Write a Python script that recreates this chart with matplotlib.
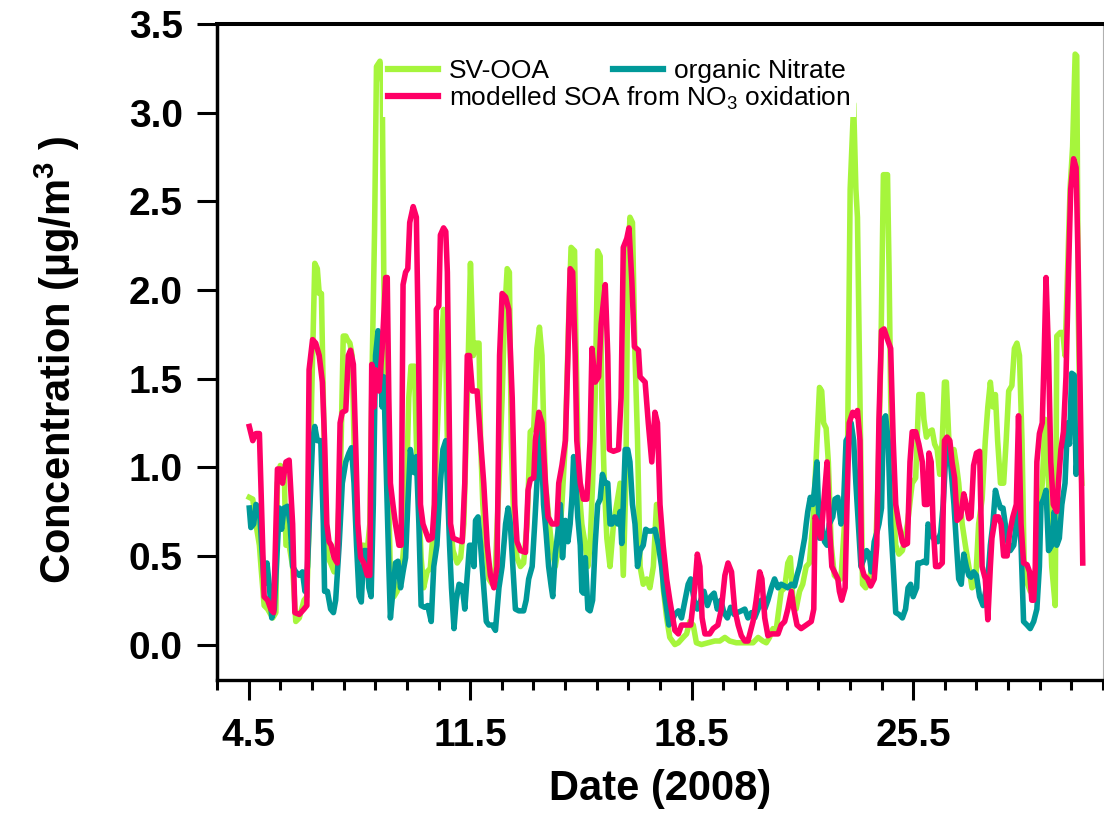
import matplotlib
matplotlib.use('Agg')
import matplotlib.pyplot as plt
from matplotlib.ticker import FixedLocator, MultipleLocator, FormatStrFormatter
import numpy as np

plt.rcParams['font.family'] = ['Liberation Sans', 'DejaVu Sans']
plt.rcParams['mathtext.fontset'] = 'custom'
plt.rcParams['mathtext.rm'] = 'Liberation Sans'
plt.rcParams['mathtext.bf'] = 'Liberation Sans:bold'

# --- data: day of May 2008 vs concentration (ug/m3) ---
soa_t = [4.52, 4.63, 4.73, 4.84, 4.99, 5.10, 5.20, 5.29, 5.41, 5.50, 5.57, 5.68, 5.78, 5.89, 5.96,
         6.10, 6.25, 6.34, 6.41, 6.52, 6.62, 6.73, 6.83, 6.90, 6.97, 7.04, 7.11, 7.20, 7.30, 7.39,
         7.46, 7.57, 7.65, 7.72, 7.81, 7.88, 7.95, 8.04, 8.14, 8.25, 8.33, 8.39, 8.46, 8.51, 8.62,
         8.72, 8.83, 8.88, 8.93, 8.98, 9.06, 9.14, 9.25, 9.32, 9.38, 9.46, 9.53, 9.59, 9.70, 9.80,
         9.87, 9.93, 10.01, 10.09, 10.19, 10.30, 10.37, 10.43, 10.51, 10.56, 10.66, 10.73, 10.78,
         10.83, 10.88, 10.96, 11.09, 11.25, 11.33, 11.41, 11.48, 11.57, 11.72, 11.83, 11.93, 12.04,
         12.14, 12.25, 12.35, 12.43, 12.51, 12.62, 12.72, 12.83, 12.91, 12.98, 13.09, 13.25, 13.33,
         13.40, 13.51, 13.56, 13.67, 13.77, 13.88, 13.96, 14.09, 14.24, 14.30, 14.40, 14.51, 14.59,
         14.66, 14.74, 14.82, 14.87, 14.98, 15.08, 15.19, 15.29, 15.35, 15.45, 15.56, 15.64, 15.77,
         15.85, 15.90, 16.03, 16.19, 16.27, 16.34, 16.45, 16.52, 16.61, 16.69, 16.82, 16.87, 17.03,
         17.13, 17.24, 17.34, 17.42, 17.50, 17.60, 17.71, 17.81, 17.97, 18.08, 18.18, 18.34, 18.47,
         18.60, 18.68, 18.76, 18.83, 18.92, 19.07, 19.18, 19.33, 19.44, 19.55, 19.65, 19.76, 19.86,
         19.97, 20.07, 20.18, 20.28, 20.44, 20.54, 20.65, 20.72, 20.81, 20.91, 21.02, 21.23, 21.33,
         21.44, 21.54, 21.65, 21.73, 21.83, 21.96, 22.12, 22.28, 22.36, 22.40, 22.49, 22.59, 22.67,
         22.78, 22.85, 22.93, 23.01, 23.12, 23.17, 23.24, 23.35, 23.41, 23.48, 23.59, 23.69, 23.74,
         23.82, 23.87, 23.95, 24.06, 24.16, 24.27, 24.35, 24.42, 24.50, 24.58, 24.69, 24.79, 24.87,
         24.95, 25.05, 25.16, 25.21, 25.32, 25.40, 25.47, 25.58, 25.68, 25.79, 25.86, 25.95, 26.00,
         26.07, 26.13, 26.21, 26.31, 26.42, 26.49, 26.57, 26.66, 26.73, 26.81, 26.89, 27.00, 27.10,
         27.18, 27.26, 27.33, 27.41, 27.50, 27.60, 27.68, 27.78, 27.86, 27.94, 27.99, 28.10, 28.20,
         28.28, 28.36, 28.47, 28.55, 28.65, 28.76, 28.83, 28.91, 28.99, 29.10, 29.18, 29.25, 29.31,
         29.36, 29.41, 29.49, 29.58, 29.64, 29.70, 29.78, 29.85, 29.93, 30.04, 30.09, 30.17, 30.25,
         30.33, 30.41, 30.48, 30.57, 30.65, 30.72, 30.80, 30.86]
soa = [1.23, 1.15, 1.19, 1.19, 0.27, 0.25, 0.20, 0.18, 0.99, 0.99, 0.91, 1.03, 1.04, 0.68, 0.18,
       0.17, 0.20, 0.22, 1.55, 1.72, 1.70, 1.63, 1.48, 1.15, 0.68, 0.58, 0.56, 0.49, 0.46, 1.25,
       1.31, 1.32, 1.63, 1.66, 1.58, 1.15, 0.68, 0.49, 0.46, 0.39, 0.39, 1.58, 1.34, 1.55, 1.43,
       1.67, 2.07, 2.07, 1.39, 0.91, 0.79, 0.68, 0.56, 0.56, 2.03, 2.10, 2.12, 2.38, 2.47, 2.41,
       1.63, 0.79, 0.68, 0.64, 0.59, 0.60, 0.79, 1.89, 1.91, 2.31, 2.35, 2.33, 2.10,
       1.39, 0.68, 0.60, 0.59, 0.58, 0.91, 1.63, 1.63, 1.43, 1.43, 1.15, 0.91, 0.56,
       0.39, 0.32, 0.44, 1.63, 1.98, 1.96, 1.89, 1.39, 0.79, 0.58, 0.53, 0.52, 0.87,
       0.93, 0.94, 1.15, 1.31, 1.25, 0.91, 0.72, 0.68, 0.68, 0.91, 1.01, 1.15, 1.63,
       2.12, 2.10, 1.63, 1.15, 0.91, 0.82, 0.82, 1.15, 1.67, 1.48, 1.51, 1.81, 2.03,
       1.63, 1.10, 1.09, 1.10, 1.39, 2.24, 2.29, 2.35, 2.05, 1.68, 1.66, 1.51, 1.48,
       1.25, 1.03, 1.31, 1.25, 0.79, 0.56, 0.37, 0.25, 0.08, 0.06, 0.11, 0.11, 0.11,
       0.32, 0.51, 0.44, 0.15, 0.06, 0.06, 0.09, 0.11, 0.20, 0.39, 0.46, 0.41, 0.20,
       0.11, 0.05, 0.02, 0.02, 0.13, 0.25, 0.41, 0.37, 0.15, 0.05, 0.06, 0.06, 0.11,
       0.13, 0.20, 0.30, 0.20, 0.11, 0.09, 0.11, 0.13, 0.20, 0.72, 0.68, 0.60, 0.79,
       1.03, 0.68, 0.44, 0.41, 0.37, 0.30, 0.25, 0.32, 0.79, 1.25, 1.31, 1.29, 1.32,
       1.15, 0.44, 0.39, 0.37, 0.33, 0.37, 0.56, 1.27, 1.77, 1.78, 1.72, 1.67, 1.15,
       0.79, 0.68, 0.58, 0.56, 0.57, 1.03, 1.20, 1.20, 1.13, 1.03, 0.79, 0.79, 1.08,
       1.03, 0.68, 0.44, 0.44, 0.46, 1.15, 1.17, 1.15, 1.03, 0.94, 0.70, 0.72, 0.85,
       0.79, 0.71, 0.72, 1.01, 1.08, 1.09, 0.44, 0.37, 0.14, 0.44, 0.60, 0.72, 0.72,
       0.68, 0.50, 0.50, 0.63, 0.72, 0.79, 1.29, 0.68, 0.46, 0.45, 0.41, 0.25, 0.25,
       0.44, 1.03, 1.19, 1.25, 1.63, 2.07, 1.63, 1.03, 0.79, 0.75, 0.91, 1.10, 1.20,
       1.51, 2.10, 2.57, 2.74, 2.69, 2.10, 1.15, 0.46]

svooa_t = [4.52, 4.63, 4.73, 4.84, 4.89, 4.99, 5.10, 5.26, 5.36, 5.41, 5.50, 5.62, 5.68, 5.78, 5.89,
           5.99, 6.10, 6.25, 6.34, 6.41, 6.49, 6.59, 6.67, 6.73, 6.80, 6.86, 6.94, 7.01, 7.09, 7.20,
           7.30, 7.41, 7.49, 7.57, 7.62, 7.70, 7.77, 7.83, 7.91, 7.99, 8.14, 8.25, 8.33, 8.41, 8.48,
           8.54, 8.65, 8.72, 8.77, 8.83, 8.93, 8.98, 9.09, 9.19, 9.35, 9.46, 9.56, 9.63, 9.74, 9.80,
           9.88, 9.95, 10.03, 10.14, 10.24, 10.35, 10.45, 10.56, 10.66, 10.73, 10.78, 10.85, 10.96,
           11.09, 11.20, 11.30, 11.41, 11.51, 11.60, 11.67, 11.78, 11.83, 11.90, 11.99, 12.09, 12.20,
           12.30, 12.41, 12.51, 12.59, 12.67, 12.74, 12.80, 12.88, 12.98, 13.09, 13.19, 13.30, 13.40,
           13.51, 13.61, 13.69, 13.77, 13.82, 13.88, 13.98, 14.09, 14.19, 14.30, 14.40, 14.51, 14.61,
           14.69, 14.80, 14.84, 14.93, 15.03, 15.14, 15.22, 15.29, 15.37, 15.45, 15.53, 15.61, 15.66,
           15.74, 15.82, 15.92, 16.03, 16.13, 16.24, 16.34, 16.42, 16.48, 16.55, 16.63, 16.71, 16.79,
           16.87, 16.97, 17.08, 17.18, 17.29, 17.39, 17.42, 17.50, 17.60, 17.71, 17.81, 17.97, 18.08,
           18.23, 18.34, 18.44, 18.55, 18.65, 18.81, 19.02, 19.23, 19.39, 19.55, 19.70, 19.91, 20.18,
           20.44, 20.60, 20.75, 20.86, 20.96, 21.07, 21.17, 21.33, 21.44, 21.54, 21.62, 21.70, 21.80,
           21.91, 22.01, 22.12, 22.22, 22.33, 22.43, 22.54, 22.61, 22.67, 22.75, 22.82, 22.91, 23.01,
           23.12, 23.22, 23.33, 23.43, 23.51, 23.62, 23.69, 23.74, 23.82, 23.90, 24.00, 24.11, 24.21,
           24.32, 24.39, 24.48, 24.56, 24.69, 24.74, 24.79, 24.87, 24.95, 25.05, 25.16, 25.32, 25.47,
           25.58, 25.68, 25.79, 25.84, 25.92, 26.00, 26.10, 26.18, 26.26, 26.34, 26.42, 26.49, 26.55,
           26.63, 26.70, 26.79, 26.87, 26.94, 27.05, 27.15, 27.26, 27.36, 27.47, 27.57, 27.68, 27.78,
           27.86, 27.94, 28.02, 28.10, 28.17, 28.26, 28.36, 28.44, 28.52, 28.62, 28.70, 28.78, 28.86,
           28.94, 29.01, 29.12, 29.20, 29.31, 29.41, 29.49, 29.58, 29.67, 29.78, 29.88, 29.99, 30.04,
           30.15, 30.23, 30.30, 30.38, 30.46, 30.54, 30.62, 30.67, 30.72, 30.78, 30.83]
svooa = [0.83, 0.82, 0.68, 0.56, 0.44, 0.22, 0.20, 0.15, 0.18, 0.91, 1.01, 0.99, 0.56, 0.56, 0.44,
         0.13, 0.15, 0.25, 0.27, 0.68, 1.39, 2.15, 2.12, 1.98, 1.98, 1.39, 0.68, 0.49, 0.46, 0.41,
         0.56, 1.03, 1.74, 1.74, 1.72, 1.70, 1.63, 1.15, 0.72, 0.56, 0.56, 0.53, 0.68, 1.63, 2.34,
         3.26, 3.29, 3.17, 2.10, 1.39, 0.79, 0.39, 0.27, 0.30, 0.44, 0.68, 1.39, 1.57, 1.57, 1.15,
         0.79, 0.49, 0.32, 0.41, 0.43, 0.68, 1.15, 1.63, 1.89, 1.63, 1.15, 0.72, 0.53,
         0.46, 0.49, 0.68, 1.39, 2.15, 1.63, 1.70, 1.70, 1.15, 0.79, 0.56, 0.37, 0.34,
         0.44, 0.91, 1.39, 1.86, 2.12, 2.10, 1.15, 0.68, 0.49, 0.44, 0.46, 0.68, 1.20,
         1.22, 1.67, 1.79, 1.63, 1.27, 0.91, 0.72, 0.53, 0.44, 0.56, 0.79, 1.15, 1.81,
         2.24, 2.22, 1.74, 0.91, 0.68, 0.56, 0.44, 0.56, 0.91, 1.39, 2.22, 2.19, 1.39,
         0.91, 0.60, 0.44, 0.68, 0.79, 0.91, 0.39, 0.91, 2.10, 2.41, 2.38, 1.63, 1.15,
         0.44, 0.34, 0.37, 0.32, 0.44, 0.79, 0.79, 0.72, 0.32, 0.15, 0.04, 0.00, 0.01,
         0.04, 0.06, 0.13, 0.11, 0.01, 0.00, 0.01, 0.02, 0.02, 0.04, 0.02, 0.01, 0.01,
         0.01, 0.04, 0.02, 0.01, 0.04, 0.09, 0.08, 0.30, 0.32, 0.46, 0.49, 0.25, 0.20,
         0.30, 0.34, 0.44, 0.46, 0.68, 1.03, 1.45, 1.43, 1.25, 1.22, 1.03, 0.56, 0.39,
         0.37, 0.37, 0.68, 1.15, 2.57, 3.05, 2.57, 2.41, 1.39, 0.34, 0.32, 0.37, 0.44,
         0.56, 0.91, 1.63, 2.65, 2.65, 2.10, 1.39, 0.79, 0.56, 0.51, 0.53, 0.68, 0.91,
         0.94, 1.41, 1.41, 1.27, 1.17, 1.20, 1.21, 1.13, 1.10, 0.96, 1.15, 1.48, 1.48,
         1.15, 1.03, 1.10, 1.01, 0.91, 0.68, 0.56, 0.44, 0.32, 0.34, 0.68, 0.82, 1.15,
         1.34, 1.48, 1.34, 1.41, 1.15, 0.91, 0.91, 1.15, 1.43, 1.46, 1.67, 1.70, 1.63,
         1.15, 0.44, 0.34, 0.30, 0.32, 0.44, 0.68, 0.91, 1.27, 0.91, 0.44, 0.22, 1.74,
         1.76, 1.76, 1.63, 2.10, 2.57, 2.81, 3.33, 3.32, 1.86, 1.15, 0.91]

orgno3_t = [4.52, 4.57, 4.66, 4.73, 4.84, 4.91, 4.99, 5.08, 5.15, 5.23, 5.31, 5.39, 5.47, 5.54, 5.62,
            5.73, 5.81, 5.89, 5.99, 6.10, 6.20, 6.28, 6.36, 6.44, 6.52, 6.59, 6.67, 6.78, 6.86, 6.90,
            6.99, 7.09, 7.18, 7.25, 7.36, 7.46, 7.57, 7.67, 7.75, 7.83, 7.91, 7.99, 8.06, 8.14, 8.23,
            8.30, 8.37, 8.44, 8.51, 8.59, 8.65, 8.72, 8.77, 8.86, 8.93, 8.98, 9.07, 9.14, 9.22, 9.30,
            9.38, 9.46, 9.53, 9.61, 9.72, 9.80, 9.88, 9.95, 10.06, 10.16, 10.27, 10.35, 10.45, 10.56,
            10.64, 10.73, 10.78, 10.85, 10.91, 10.99, 11.06, 11.15, 11.25, 11.33, 11.41, 11.48, 11.57,
            11.62, 11.67, 11.75, 11.83, 11.93, 12.01, 12.09, 12.20, 12.30, 12.41, 12.51, 12.62, 12.70,
            12.77, 12.85, 12.93, 13.04, 13.19, 13.27, 13.35, 13.46, 13.54, 13.61, 13.69, 13.77, 13.82,
            13.90, 13.98, 14.06, 14.11, 14.19, 14.27, 14.35, 14.42, 14.51, 14.59, 14.66, 14.72, 14.77,
            14.84, 14.90, 14.98, 15.03, 15.08, 15.14, 15.22, 15.29, 15.37, 15.45, 15.53, 15.61, 15.68,
            15.77, 15.85, 15.92, 15.98, 16.06, 16.16, 16.24, 16.29, 16.34, 16.40, 16.48, 16.55, 16.63,
            16.71, 16.79, 16.87, 16.97, 17.05, 17.13, 17.24, 17.34, 17.45, 17.55, 17.63, 17.71, 17.78,
            17.87, 17.97, 18.08, 18.18, 18.29, 18.39, 18.47, 18.58, 18.68, 18.79, 18.89, 19.00, 19.10,
            19.21, 19.31, 19.42, 19.52, 19.63, 19.73, 19.84, 19.94, 20.07, 20.18, 20.28, 20.39, 20.49,
            20.60, 20.70, 20.81, 20.91, 21.02, 21.12, 21.23, 21.33, 21.44, 21.54, 21.65, 21.75, 21.83,
            21.91, 21.98, 22.07, 22.12, 22.17, 22.25, 22.33, 22.38, 22.46, 22.54, 22.61, 22.70, 22.78,
            22.85, 22.96, 23.03, 23.12, 23.22, 23.30, 23.38, 23.45, 23.54, 23.62, 23.69, 23.77, 23.85,
            23.96, 24.03, 24.11, 24.18, 24.27, 24.35, 24.42, 24.50, 24.56, 24.63, 24.71, 24.79, 24.87,
            24.95, 25.05, 25.16, 25.26, 25.34, 25.42, 25.50, 25.61, 25.65, 25.74, 25.84, 25.92, 25.97,
            26.05, 26.13, 26.21, 26.28, 26.37, 26.45, 26.52, 26.60, 26.68, 26.79, 26.87, 26.94, 27.02,
            27.10, 27.18, 27.26, 27.33, 27.41, 27.50, 27.60, 27.71, 27.81, 27.89, 27.94, 28.02, 28.10,
            28.17, 28.26, 28.34, 28.41, 28.49, 28.57, 28.68, 28.76, 28.83, 28.91, 28.99, 29.10, 29.20,
            29.31, 29.41, 29.49, 29.54, 29.62, 29.70, 29.78, 29.88, 29.96, 30.04, 30.12, 30.20, 30.30,
            30.38, 30.44, 30.51, 30.59, 30.65, 30.72]
orgno3 = [0.77, 0.66, 0.68, 0.79, 0.77, 0.56, 0.34, 0.46, 0.34, 0.15, 0.20, 0.49, 0.77, 0.65, 0.77,
          0.78, 0.68, 0.44, 0.41, 0.39, 0.41, 0.30, 0.44, 0.79, 1.15, 1.23, 1.15, 1.15, 0.68, 0.30,
          0.30, 0.20, 0.18, 0.25, 0.56, 0.91, 1.03, 1.08, 1.11, 0.91, 0.56, 0.27, 0.24, 0.53, 0.53,
          0.32, 0.27, 0.79, 1.63, 1.77, 1.63, 1.34, 1.51, 0.91, 0.44, 0.15, 0.32, 0.46, 0.47, 0.32,
          0.41, 0.49, 0.79, 1.10, 0.97, 1.06, 0.68, 0.22, 0.21, 0.22, 0.13, 0.44, 0.56, 0.91,
          1.10, 1.15, 0.91, 0.56, 0.32, 0.09, 0.25, 0.34, 0.33, 0.20, 0.39, 0.56, 0.56,
          0.44, 0.70, 0.72, 0.56, 0.32, 0.13, 0.11, 0.11, 0.08, 0.32, 0.44, 0.68, 0.77,
          0.68, 0.44, 0.20, 0.19, 0.19, 0.25, 0.37, 0.44, 0.68, 0.91, 1.20, 1.03, 0.79,
          0.63, 0.44, 0.33, 0.27, 0.51, 0.63, 0.79, 0.49, 0.70, 0.58, 0.68, 0.84, 1.06,
          0.91, 0.72, 0.56, 0.30, 0.29, 0.49, 0.20, 0.19, 0.25, 0.56, 0.79, 0.82, 0.96,
          0.91, 0.91, 0.68, 0.68, 0.72, 0.68, 0.75, 0.57, 0.79, 1.10, 1.10, 1.03, 0.79,
          0.68, 0.44, 0.53, 0.56, 0.65, 0.64, 0.64, 0.65, 0.56, 0.44, 0.30, 0.20, 0.11,
          0.13, 0.17, 0.19, 0.15, 0.25, 0.34, 0.37, 0.25, 0.20, 0.25, 0.30, 0.22, 0.27,
          0.29, 0.20, 0.25, 0.18, 0.15, 0.21, 0.17, 0.18, 0.19, 0.20, 0.15, 0.18, 0.15,
          0.20, 0.25, 0.20, 0.25, 0.32, 0.37, 0.32, 0.34, 0.33, 0.32, 0.34, 0.33, 0.39,
          0.44, 0.51, 0.60, 0.68, 0.75, 0.83, 0.79, 0.87, 1.03, 0.60, 0.68, 0.58, 0.56,
          0.68, 0.72, 0.82, 0.83, 0.68, 0.79, 1.15, 1.17, 1.25, 1.15, 0.91, 0.68, 0.44,
          0.49, 0.53, 0.51, 0.41, 0.58, 0.63, 0.68, 0.77, 1.27, 1.29, 1.15, 0.68, 0.44,
          0.18, 0.17, 0.15, 0.20, 0.32, 0.34, 0.27, 0.32, 0.46, 0.46, 0.47, 0.46, 0.68,
          0.65, 0.60, 0.60, 0.58, 0.63, 0.79, 1.03, 1.15, 1.03, 0.79, 0.56, 0.37, 0.34,
          0.51, 0.44, 0.39, 0.38, 0.41, 0.39, 0.27, 0.22, 0.32, 0.44, 0.56, 0.68, 0.87,
          0.82, 0.77, 0.77, 0.68, 0.58, 0.53, 0.56, 0.68, 0.79, 0.56, 0.13, 0.11, 0.09,
          0.13, 0.20, 0.44, 0.79, 0.82, 0.87, 0.53, 0.56, 0.75, 0.56, 0.60, 0.79, 0.91,
          1.25, 1.13, 1.53, 1.52, 0.96, 1.15]

major_days = [4.5, 11.5, 18.5, 25.5]

c_svooa = '#a6f53c'
c_orgno3 = '#009999'
c_soa = '#ff0066'

W, H = 1104, 816
fig = plt.figure(figsize=(W / 100, H / 100), dpi=100)
ax = fig.add_axes([217 / W, 1 - 680 / H, 886 / W, 656 / H])

lw = 4.0
l1, = ax.plot(svooa_t, svooa, color=c_svooa, lw=lw, label='SV-OOA')
l2, = ax.plot(orgno3_t, orgno3, color=c_orgno3, lw=lw, label='organic Nitrate')
l3, = ax.plot(soa_t, soa, color=c_soa, lw=lw, label='modelled SOA from NO$_3$ oxidation')

ax.set_xlim(3.5, 31.5)
ax.set_ylim(-0.2, 3.5)

ax.xaxis.set_major_locator(FixedLocator(major_days))
ax.xaxis.set_minor_locator(FixedLocator(np.arange(3.5, 31.6, 1.0)))
ax.xaxis.set_major_formatter(FormatStrFormatter('%.1f'))
ax.yaxis.set_major_locator(MultipleLocator(0.5))
ax.yaxis.set_major_formatter(FormatStrFormatter('%.1f'))

ax.tick_params(axis='both', which='major', direction='out', length=14.5, width=2.2, labelsize=28)
ax.tick_params(axis='x', which='minor', direction='out', length=7, width=2.2)
ax.tick_params(axis='x', which='major', pad=13)
ax.tick_params(axis='y', which='major', pad=10)
for lab in ax.get_xticklabels() + ax.get_yticklabels():
    lab.set_fontweight('bold')

ax.spines['left'].set_linewidth(2.5)
ax.spines['bottom'].set_linewidth(2.4)
ax.spines['top'].set_linewidth(2.9)
ax.spines['right'].set_linewidth(0.8)
ax.spines['right'].set_color('#b0b0b0')

ax.set_xlabel('Date (2008)', fontsize=30, fontweight='bold')
ax.set_ylabel('Concentration (µg/m$^{\\mathbf{3}}$ )', fontsize=30, fontweight='bold')
ax.xaxis.set_label_coords(0.5, -0.135)
ax.yaxis.set_label_coords(-0.152, 0.488)

# white-backed legend: SV-OOA / modelled SOA box, organic Nitrate set on its top row
leg_kw = dict(fontsize=19, fancybox=False, framealpha=1.0, handlelength=1.9,
              handletextpad=0.4, borderpad=0.2, labelspacing=0.05, borderaxespad=0.0,
              bbox_transform=fig.transFigure, loc='upper left')
leg1 = ax.legend(handles=[l1, l3], bbox_to_anchor=(383 / W, 1 - 54 / H), frameon=True, **leg_kw)
leg1.get_frame().set_edgecolor('none')
ax.add_artist(leg1)
leg2 = ax.legend(handles=[l2], bbox_to_anchor=(608 / W, 1 - 54 / H), frameon=False, **leg_kw)
for leg in (leg1, leg2):
    for h in leg.get_lines():
        h.set_linewidth(4.5)

fig.savefig('out.png', dpi=100)
